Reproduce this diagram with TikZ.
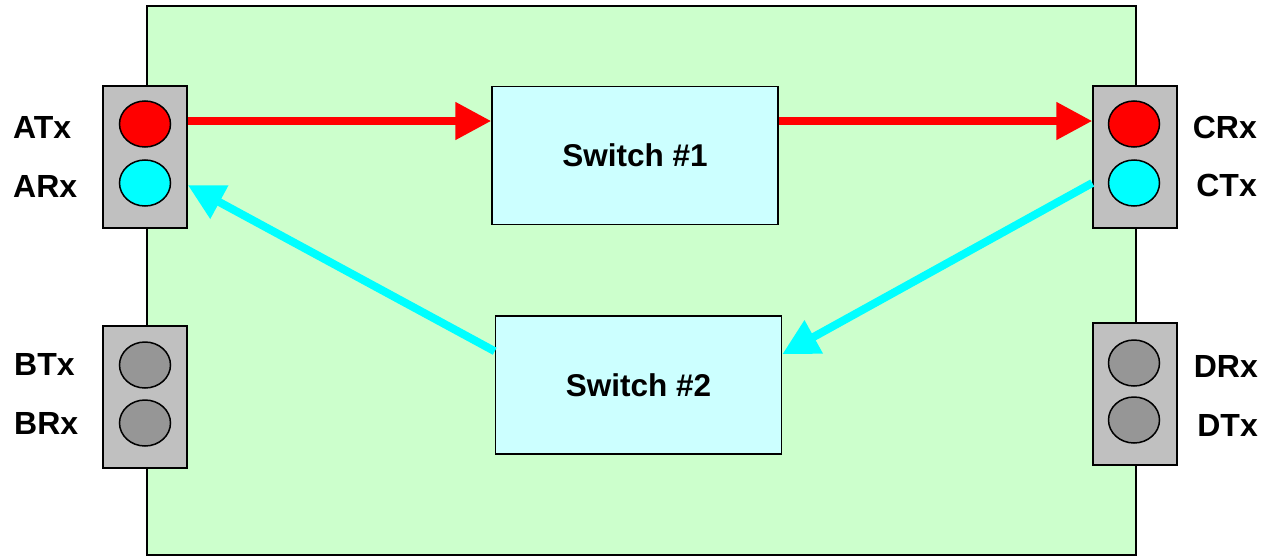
\documentclass[tikz,border=0pt]{standalone}
\usepackage{fontspec}
\setmainfont{Liberation Sans}
\usetikzlibrary{arrows.meta,shapes.geometric}
\definecolor{bggreen}{HTML}{CCFFCC}
\definecolor{swfill}{HTML}{CCFFFF}
\definecolor{portgray}{HTML}{C0C0C0}
\definecolor{ledgray}{HTML}{969696}
\definecolor{ledred}{HTML}{FF0000}
\definecolor{ledcyan}{HTML}{00FFFF}
\tikzset{
  portbox/.style={draw=black, line width=1.5pt, fill=portgray, minimum width=84pt, minimum height=142pt, inner sep=0pt},
  led/.style={ellipse, draw=black, line width=1.5pt, minimum width=51pt, minimum height=46pt, inner sep=0pt},
  swbox/.style={draw=black, line width=1.5pt, fill=swfill, minimum width=286pt, minimum height=138pt, inner sep=0pt, font=\fontsize{31.5}{36}\selectfont\bfseries},
  lbl/.style={inner sep=0pt, font=\fontsize{32}{36}\selectfont\bfseries},
  redarrow/.style={draw=ledred, line width=8pt, -{Triangle[length=36pt,width=36pt]}},
  cyanarrow/.style={draw=ledcyan, line width=8pt, -{Triangle[length=36pt,width=36pt]}}
}
\begin{document}
\begin{tikzpicture}[x=1pt,y=-1pt]
\useasboundingbox (0,0) rectangle (1275,557);
\draw[line width=2pt, fill=bggreen] (147,6) rectangle (1136,555);
% ports
\node[portbox] (portA) at (145,157) {};
\node[portbox] (portB) at (145,397) {};
\node[portbox] (portC) at (1135,157) {};
\node[portbox] (portD) at (1135,394) {};
% leds
\node[led, fill=ledred] (atx) at (145,124) {};
\node[led, fill=ledcyan] (arx) at (145,183) {};
\node[led, fill=ledgray] (btx) at (145,365) {};
\node[led, fill=ledgray] (brx) at (145,423) {};
\node[led, fill=ledred] (crx) at (1134,124) {};
\node[led, fill=ledcyan] (ctx) at (1134,183) {};
\node[led, fill=ledgray] (drx) at (1134,363) {};
\node[led, fill=ledgray] (dtx) at (1134,420) {};
% switches
\node[swbox] (sw1) at (635,155.5) {Switch \#1};
\node[swbox] (sw2) at (638.5,385) {Switch \#2};
% labels
\node[lbl, anchor=west] (lATx) at (13,127) {ATx};
\node[lbl, anchor=west] (lARx) at (13,186) {ARx};
\node[lbl, anchor=west] (lBTx) at (14,364) {BTx};
\node[lbl, anchor=west] (lBRx) at (14,423.5) {BRx};
\node[lbl, anchor=east] (lCRx) at (1257,127.5) {CRx};
\node[lbl, anchor=east] (lCTx) at (1257,185) {CTx};
\node[lbl, anchor=east] (lDRx) at (1258,366) {DRx};
\node[lbl, anchor=east] (lDTx) at (1258,425) {DTx};
% connectors
\draw[redarrow] ([yshift=3pt]portA.east |- atx.center) -- ([yshift=3pt]sw1.west |- atx.center);
\draw[redarrow] ([yshift=3pt]sw1.east |- atx.center) -- ([yshift=3pt]portC.west |- crx.center);
\draw[cyanarrow] (portC.west |- ctx.center) -- ([yshift=-39pt]sw2.north east);
\draw[cyanarrow] ([yshift=-36pt]sw2.north west) -- ([yshift=-2pt]portA.east |- arx.center);
\end{tikzpicture}
\end{document}
